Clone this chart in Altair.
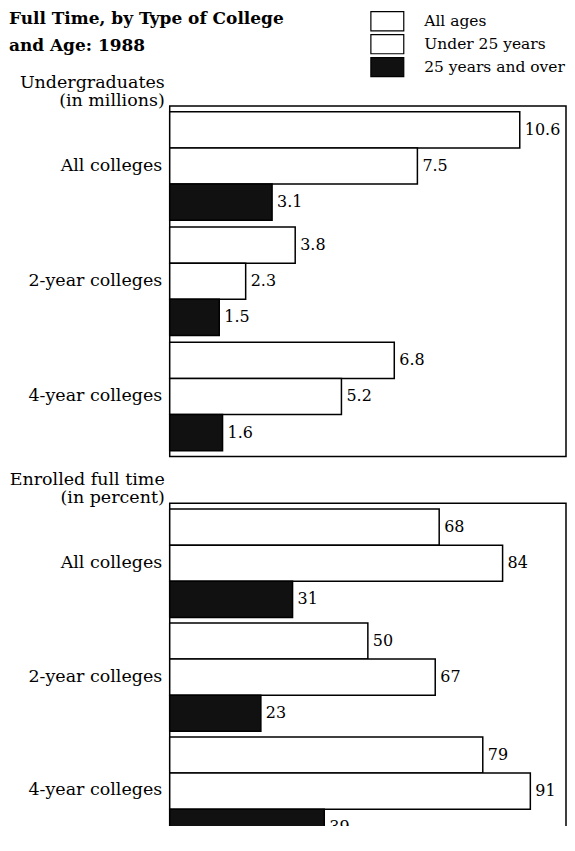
import altair as alt
import pandas as pd

colleges = ["All colleges", "2-year colleges", "4-year colleges"]
ages = ["All ages", "Under 25 years", "25 years and over"]
undergrad_millions = {
    "All colleges": [10.6, 7.5, 3.1],
    "2-year colleges": [3.8, 2.3, 1.5],
    "4-year colleges": [6.8, 5.2, 1.6],
}
fulltime_percent = {
    "All colleges": [68, 84, 31],
    "2-year colleges": [50, 67, 23],
    "4-year colleges": [79, 91, 39],
}

FONT = "DejaVu Serif"
BOX = "M-1.8,-1.05H1.8V1.05H-1.8Z"


def make_df(values):
    rows = []
    for c in colleges:
        for a, v in zip(ages, values[c]):
            rows.append({"college": c, "age": a, "value": v})
    return pd.DataFrame(rows)


def panel(df, dmax, fmt, title_lines, show_legend, h):
    base = alt.Chart(df).encode(
        y=alt.Y(
            "college:N",
            sort=colleges,
            scale=alt.Scale(paddingInner=0.06, paddingOuter=0.05),
            axis=alt.Axis(
                title=None, ticks=False, domain=False, labelFont=FONT,
                labelFontSize=17.5, labelColor="black", labelPadding=8,
            ),
        ),
        yOffset=alt.YOffset("age:N", sort=ages, scale=alt.Scale(paddingInner=0, paddingOuter=0)),
        x=alt.X("value:Q", scale=alt.Scale(domain=[0, dmax], nice=False, zero=True), axis=None),
    )
    legend = (
        alt.Legend(
            title=None, orient="none", legendX=208, legendY=-95, padding=0,
            symbolType=BOX, symbolSize=335, symbolStrokeColor="black",
            symbolStrokeWidth=1.2, rowPadding=-4.5, labelFont=FONT, labelFontSize=15.5,
            labelColor="black", labelOffset=27, symbolOpacity=1,
        )
        if show_legend
        else None
    )
    bars = base.mark_bar(stroke="black", strokeWidth=1.5, opacity=1).encode(
        color=alt.Color(
            "age:N", sort=ages,
            scale=alt.Scale(domain=ages, range=["white", "white", "#111111"]),
            legend=legend,
        )
    )
    text = base.mark_text(align="left", baseline="middle", dx=5, font=FONT, fontSize=16, color="black").encode(
        text=alt.Text("value:Q", format=fmt)
    )
    return (bars + text).properties(
        width=397,
        height=h,
        title=alt.TitleParams(
            title_lines, anchor="start", frame="group", align="right", dx=-5, offset=-3,
            font=FONT, fontSize=17.5, fontWeight="normal", lineHeight=17.5, color="black",
        ),
    )


top = panel(make_df(undergrad_millions), 12, ".1f", ["Undergraduates", "(in millions)"], True, 351)
bottom = panel(make_df(fulltime_percent), 100, "d", ["Enrolled full time", "(in percent)"], False, 347)

chart = (
    alt.vconcat(top, bottom, spacing=13)
    .properties(
        title=alt.TitleParams(
            ["Students and Percent Enrolled", "Full Time, by Type of College", "and Age: 1988"],
            anchor="start", frame="bounds", font=FONT, fontSize=17, fontWeight="bold",
            lineHeight=27, color="black", offset=0, dy=43.5,
        ),
        padding={"top": -26.5, "left": 0, "right": 0, "bottom": -26},
    )
    .configure(font=FONT)
    .configure_view(stroke="black", strokeWidth=1.5)
)

chart.save("out.html", embed_options={"renderer": "svg", "actions": False})
